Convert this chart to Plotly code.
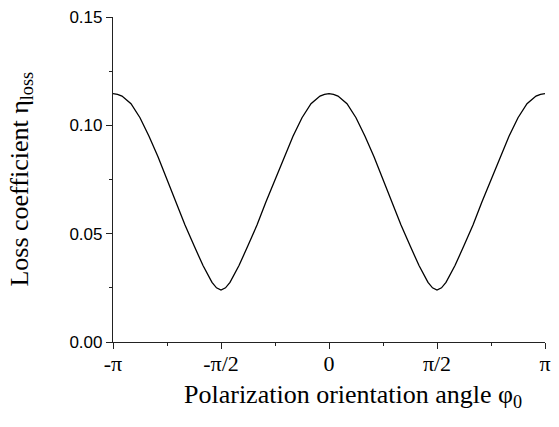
import plotly.graph_objects as go

# polarization angle in degrees (axis labelled in multiples of pi)
angle_deg = [-180, -176.25, -172.5, -165, -157.5, -150, -142.5, -135, -127.5, -120, -112.5,
             -105, -97.5, -93.75, -90, -86.25, -82.5, -75, -67.5, -60, -52.5,
             -45, -37.5, -30, -22.5, -15, -7.5, -3.75, 0, 3.75, 7.5, 15, 22.5,
             30, 37.5, 45, 52.5, 60, 67.5, 75, 82.5, 86.25, 90,
             93.75, 97.5, 105, 112.5, 120, 127.5, 135, 142.5, 150, 157.5,
             165, 172.5, 176.25, 180]
loss = [0.1146, 0.1143, 0.1135, 0.1100, 0.1035, 0.0950, 0.0855, 0.0750, 0.0647, 0.0540, 0.0445,
        0.0353, 0.0275, 0.0250, 0.0240, 0.0250, 0.0275, 0.0353, 0.0445, 0.0540, 0.0647,
        0.0750, 0.0855, 0.0950, 0.1035, 0.1100, 0.1135, 0.1143, 0.1146, 0.1143, 0.1135, 0.1100, 0.1035,
        0.0950, 0.0855, 0.0750, 0.0647, 0.0540, 0.0445, 0.0353, 0.0275, 0.0250, 0.0240,
        0.0250, 0.0275, 0.0353, 0.0445, 0.0540, 0.0647, 0.0750, 0.0855, 0.0950, 0.1035,
        0.1100, 0.1135, 0.1143, 0.1146]

x_tickvals = [-180, -90, 0, 90, 180]
x_ticktext = ["-\u03c0", "-\u03c0/2", "0", "\u03c0/2", "\u03c0"]
y_tickvals = [0.0, 0.05, 0.10, 0.15]
y_ticktext = ["0.00", "0.05", "0.10", "0.15"]

serif = "Liberation Serif, Times New Roman, serif"
sans = "Liberation Sans, Arial, sans-serif"

fig = go.Figure()
fig.add_trace(go.Scatter(x=angle_deg, y=loss, mode="lines",
                         line=dict(color="black", width=1.3), showlegend=False))

fig.update_layout(
    width=559, height=427,
    margin=dict(l=113, r=8, t=17, b=85),
    paper_bgcolor="white", plot_bgcolor="white",
    xaxis=dict(range=[-180, 180], tickvals=x_tickvals, ticktext=x_ticktext,
               showline=True, linecolor="#222", linewidth=1.2,
               ticks="outside", ticklen=6, tickwidth=1.2, tickcolor="#222",
               ticklabelstandoff=-5,
               showgrid=False, zeroline=False,
               tickfont=dict(family=serif, size=22, color="black"),
               minor=dict(tickvals=[-135, -45, 45, 135], ticks="outside",
                          ticklen=3, tickwidth=1.2, tickcolor="#222")),
    yaxis=dict(range=[0, 0.15], tickvals=y_tickvals, ticktext=y_ticktext,
               showline=True, linecolor="#222", linewidth=1.2,
               ticks="outside", ticklen=6, tickwidth=1.2, tickcolor="#222",
               showgrid=False, zeroline=False,
               tickfont=dict(family=sans, size=17, color="black"),
               minor=dict(tickvals=[0.025, 0.075, 0.125], ticks="outside",
                          ticklen=3, tickwidth=1.2, tickcolor="#222")),
    annotations=[
        dict(text="Polarization orientation angle \u03c6<sub>0</sub>",
             xref="paper", yref="paper", x=0.555, y=-0.165, xanchor="center",
             yanchor="middle", showarrow=False,
             font=dict(family=serif, size=26, color="black")),
        dict(text="Loss coefficient \u03b7<sub>loss</sub>",
             xref="paper", yref="paper", x=-0.215, y=0.5, xanchor="center",
             yanchor="middle", textangle=-90, showarrow=False,
             font=dict(family=serif, size=26, color="black")),
    ],
)

fig.write_html("out.html")
